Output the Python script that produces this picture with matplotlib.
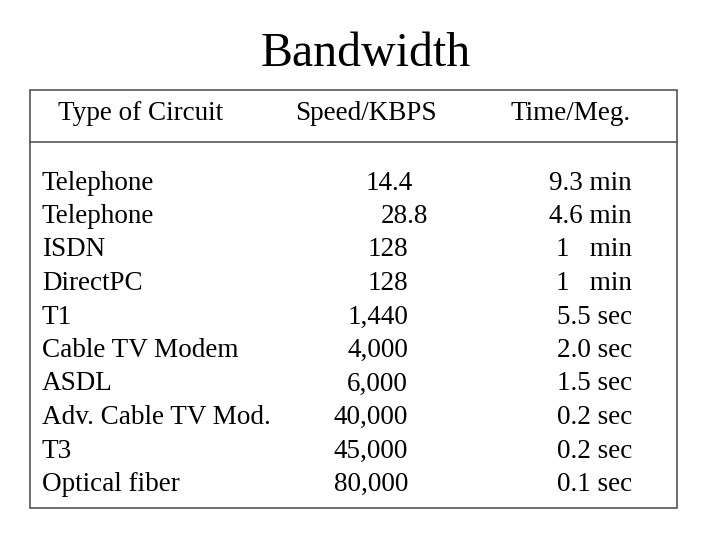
import matplotlib
matplotlib.use("Agg")
import matplotlib.pyplot as plt
from matplotlib.patches import Rectangle

title = "Bandwidth"
headers = ["Type of Circuit", "Speed/KBPS", "Time/Meg."]
circuits = ["Telephone", "Telephone", "ISDN", "DirectPC", "T1", "Cable TV Modem",
            "ASDL", "Adv. Cable TV Mod.", "T3", "Optical fiber"]
speeds = ["14.4", "28.8", "128", "128", "1,440", "4,000", "6,000", "40,000", "45,000", "80,000"]
times = ["9.3 min", "4.6 min", "1   min", "1   min", "5.5 sec", "2.0 sec", "1.5 sec",
         "0.2 sec", "0.2 sec", "0.1 sec"]

plt.rcParams['font.family'] = ['Liberation Serif', 'DejaVu Serif']
fig = plt.figure(figsize=(7.2, 5.39), dpi=100)
ax = fig.add_axes([0, 0, 1, 1])
ax.set_xlim(0, 720); ax.set_ylim(539, 0); ax.axis('off')

ax.text(366, 54, title, fontsize=34.5, ha='center', va='center')
ax.add_patch(Rectangle((30, 90), 647, 418, fill=False, lw=1.2, ec='#555555'))
ax.plot([30, 677], [142, 142], color='#555555', lw=1.2)

fs = 19.5
for x, h in zip([141, 366, 571], headers):
    ax.text(x, 114, h, fontsize=fs, ha='center', va='center')

y0, dy = 183, 33.5
for i, (c, s, t) in enumerate(zip(circuits, speeds, times)):
    y = y0 + i * dy
    sx = 413 if i == 0 else (428 if i == 1 else 408)
    ax.text(42, y, c, fontsize=fs, ha='left', va='center')
    ax.text(sx, y, s, fontsize=fs, ha='right', va='center')
    ax.text(632, y, t, fontsize=fs, ha='right', va='center')

fig.savefig("out.png", dpi=100)
